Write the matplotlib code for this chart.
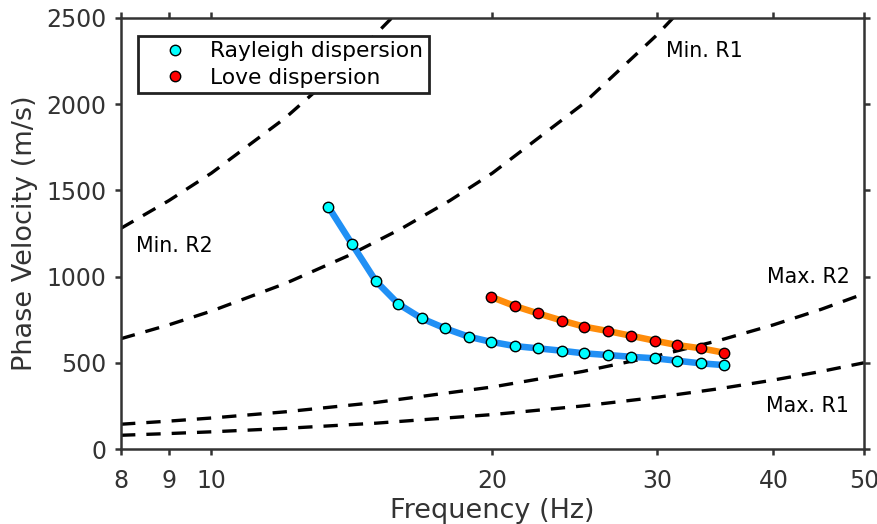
import numpy as np
import matplotlib.pyplot as plt
from matplotlib.ticker import NullLocator

# dispersion picks
rayleigh_freq = [13.34, 14.15, 15.0, 15.86, 16.79, 17.79, 18.87, 19.92, 21.14, 22.36,
                 23.74, 25.06, 26.61, 28.14, 29.86, 31.55, 33.45, 35.39]
rayleigh_vel = [1405, 1187, 974, 841, 758, 700, 651, 622, 597, 584,
                570, 555, 545, 535, 526, 512, 497, 487]
love_freq = [19.92, 21.14, 22.36, 23.74, 25.06, 26.61, 28.14, 29.86, 31.55, 33.45, 35.39]
love_vel = [883, 829, 787, 745, 710, 684, 657, 628, 603, 584, 559]

# resolution limit curves
min_r2_freq = [8, 9, 10, 12, 14, 16]
min_r2_vel = [1280, 1440, 1600, 1920, 2240, 2560]
min_r1_freq = [8, 9, 10, 12, 14, 16, 18, 20, 25, 30, 32]
min_r1_vel = [640, 720, 800, 960, 1120, 1280, 1440, 1600, 2000, 2400, 2560]
max_r2_freq = [8, 9, 10, 12, 15, 20, 25, 30, 35, 40, 45, 50]
max_r2_vel = [144, 162, 180, 216, 270, 360, 450, 540, 630, 720, 810, 900]
max_r1_freq = [8, 9, 10, 12, 15, 20, 25, 30, 35, 40, 45, 50]
max_r1_vel = [80, 90, 100, 120, 150, 200, 250, 300, 350, 400, 450, 500]

xtick_vals = [8, 9, 10, 20, 30, 40, 50]
ytick_vals = [0, 500, 1000, 1500, 2000, 2500]

txt = '#333333'
fig = plt.figure(figsize=(8.77, 5.24), dpi=100)
ax = fig.add_axes([0.138, 0.143, 0.847, 0.823])

dash = (0, (4.3, 3.3))
for fr, vel in [(min_r2_freq, min_r2_vel), (min_r1_freq, min_r1_vel),
                (max_r2_freq, max_r2_vel), (max_r1_freq, max_r1_vel)]:
    ax.plot(fr, vel, color='black', lw=2.4, linestyle=dash)

ax.plot(rayleigh_freq, rayleigh_vel, color='#2090f5', lw=4.7, solid_capstyle='round')
ax.plot(love_freq, love_vel, color='#ff8c0a', lw=4.7, solid_capstyle='round')
ax.plot(rayleigh_freq, rayleigh_vel, 'o', ms=7.5, mfc='cyan', mec='black', mew=1.0,
        label='Rayleigh dispersion')
ax.plot(love_freq, love_vel, 'o', ms=7.5, mfc='red', mec='black', mew=1.0,
        label='Love dispersion')

ax.text(8.30, 1143, 'Min. R2', fontsize=14.8, va='baseline', ha='left')
ax.text(30.68, 2272, 'Min. R1', fontsize=14.8, va='baseline', ha='left')
ax.text(48.3, 965, 'Max. R2', fontsize=14.8, va='baseline', ha='right')
ax.text(48.2, 216, 'Max. R1', fontsize=14.8, va='baseline', ha='right')

ax.set_xscale('log')
ax.set_xlim(8, 50)
ax.set_ylim(0, 2500)
ax.set_xticks(xtick_vals)
ax.set_xticklabels([str(v) for v in xtick_vals])
ax.xaxis.set_minor_locator(NullLocator())
ax.set_yticks(ytick_vals)

ax.tick_params(axis='both', which='major', direction='out', length=4.6, width=1.8,
               labelsize=17, colors=txt, top=True, right=True, pad=6)
ax.tick_params(axis='x', pad=10)
for sp in ax.spines.values():
    sp.set_linewidth(1.8)
    sp.set_color(txt)

ax.set_xlabel('Frequency (Hz)', fontsize=19.5, color=txt, labelpad=3)
ax.set_ylabel('Phase Velocity (m/s)', fontsize=19.5, color=txt, labelpad=6)

leg = ax.legend(loc='upper left', bbox_to_anchor=(0.023, 0.958), borderaxespad=0,
                fontsize=15.7, frameon=True, fancybox=False, edgecolor='#222222',
                framealpha=1, handlelength=2.9, handletextpad=0.15, borderpad=0.25,
                labelspacing=0.3)
leg.get_frame().set_linewidth(2.0)

fig.savefig('out.png', dpi=100)
